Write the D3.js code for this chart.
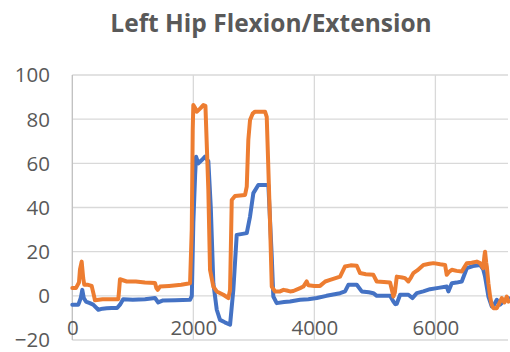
<!DOCTYPE html>
<html>
<head>
<meta charset="utf-8">
<script src="https://cdn.jsdelivr.net/npm/d3@7"></script>
<style>
  html, body { margin: 0; padding: 0; background: #fff; }
  svg { display: block; }
  text { font-family: "Open Sans", "Liberation Sans", sans-serif; fill: #595959; }
</style>
</head>
<body>
<svg id="chart" width="510" height="352"></svg>
<script>
// Frame numbers and joint angles (degrees) for the two traces
const blueFrames = [0, 100, 140, 165, 190, 225, 290, 345, 430, 500, 570, 650, 740, 788, 840, 1000, 1200, 1367, 1420, 1500, 1700, 1946, 1975, 2000, 2030, 2045, 2083, 2140, 2193, 2248, 2288, 2331, 2387, 2441, 2520, 2607, 2661, 2717, 2883, 2937, 2992, 3074, 3240, 3296, 3322, 3378, 3500, 3598, 3764, 3900, 4040, 4200, 4425, 4507, 4562, 4701, 4783, 4900, 4975, 5031, 5251, 5306, 5340, 5362, 5417, 5554, 5620, 5693, 5800, 5912, 6050, 6188, 6215, 6271, 6350, 6436, 6519, 6620, 6739, 6790, 6821, 6876, 6931, 6970, 7015, 7070, 7152, 7207];
const blueAngles = [-4, -4, -1, 2.7, -1, -2.6, -3.3, -4, -6.3, -5.8, -5.6, -5.5, -5.5, -4, -1.5, -1.8, -1.5, -1, -3, -2.1, -2, -1.8, 0, 32.9, 55, 63, 60, 61.5, 63, 61, 40.4, 5.7, -6.3, -10.9, -12, -13.1, 2.7, 27.6, 28.4, 35.9, 46.5, 50.2, 50.2, 17.8, -0.3, -3.3, -2.8, -2.6, -1.8, -1.5, -1, 0, 1.2, 2, 5, 5, 2, 1.6, 1.2, 0, 0, -2.6, -3.8, -3.6, 0.5, 0.5, -1, 1.2, 2, 3, 3.6, 4.2, 2, 5.7, 6, 6.5, 12.5, 13.5, 14, 12, 8.7, -0.3, -4.8, -4, -1.8, -4, -1.8, -1];

const orangeFrames = [0, 60, 110, 127, 155, 180, 198, 260, 320, 350, 375, 500, 600, 760, 775, 788, 900, 1050, 1200, 1367, 1390, 1411, 1450, 1600, 1800, 1946, 1974, 1990, 2000, 2030, 2056, 2120, 2165, 2200, 2248, 2276, 2331, 2387, 2496, 2579, 2607, 2635, 2689, 2855, 2883, 2909, 2937, 2980, 3020, 3185, 3213, 3268, 3296, 3350, 3433, 3490, 3544, 3598, 3653, 3764, 3818, 3874, 3900, 4000, 4094, 4180, 4260, 4350, 4425, 4507, 4600, 4701, 4755, 4850, 4975, 5031, 5150, 5251, 5279, 5306, 5330, 5362, 5450, 5499, 5554, 5600, 5636, 5700, 5802, 5900, 5967, 6080, 6160, 6188, 6230, 6271, 6350, 6436, 6480, 6519, 6600, 6684, 6739, 6790, 6810, 6821, 6840, 6850, 6876, 6904, 6930, 6959, 7015, 7097, 7140, 7180, 7207];
const orangeAngles = [3.5, 3.5, 6, 12, 15.5, 8, 5, 5, 4.5, 1, -2, -1.5, -1.5, -1.5, 3, 7.5, 6.5, 6.5, 6, 5.8, 3.5, 2.7, 4.2, 4.5, 5, 5.7, 30, 75, 86.4, 85, 83.4, 85, 86.4, 86, 48, 11.8, 4.2, 2, 0.5, -1, 2.7, 43.4, 45.2, 45.7, 49.5, 70.6, 79.6, 82.5, 83.4, 83.4, 81, 32.9, 4.2, 2, 2, 2.7, 2.4, 2, 2.2, 3.5, 4.2, 6.5, 4.8, 4.5, 4.5, 6.5, 7.2, 8, 8.7, 13.3, 13.8, 13.6, 10.3, 9.8, 9.5, 6.5, 6.3, 6, 3, -0.3, 1.5, 8.7, 8.3, 8, 6.5, 8.5, 10.3, 11.5, 14, 14.5, 14.8, 14.3, 14, 9.5, 11, 11.8, 11.3, 11, 13, 14.8, 15, 15.5, 14.8, 12.5, 18, 20, 15, 13.3, 5.7, -0.3, -4, -5.6, -5.6, -1, -3, -0.3, -2.6];

const chartTitle = "Left Hip Flexion/Extension";
const xTicks = [0, 2000, 4000, 6000];
const yTicks = [-20, 0, 20, 40, 60, 80, 100];

const svg = d3.select("#chart");

const x = d3.scaleLinear().domain([0, 7200]).range([72.3, 508]);
const y = d3.scaleLinear().domain([-20, 100]).range([340, 75]);

// Horizontal gridlines
svg.append("g")
  .selectAll("line")
  .data(yTicks)
  .join("line")
  .attr("x1", x(0)).attr("x2", x.range()[1])
  .attr("y1", d => y(d)).attr("y2", d => y(d))
  .attr("stroke", "#d9d9d9").attr("stroke-width", 1.3);

// Vertical gridlines
svg.append("g")
  .selectAll("line")
  .data(xTicks.filter(d => d !== 0))
  .join("line")
  .attr("x1", d => x(d)).attr("x2", d => x(d))
  .attr("y1", y(100)).attr("y2", y(-20))
  .attr("stroke", "#d9d9d9").attr("stroke-width", 1.3);

// Vertical axis line
svg.append("line")
  .attr("x1", x(0)).attr("x2", x(0))
  .attr("y1", y(100)).attr("y2", y(-20))
  .attr("stroke", "#bfbfbf").attr("stroke-width", 1.3);

// Y axis labels
const yAxis = d3.axisLeft(y).tickValues(yTicks).tickFormat(d3.format("d")).tickSize(0).tickPadding(0);
const gy = svg.append("g").attr("transform", "translate(50,0)").call(yAxis);
gy.select(".domain").remove();
gy.selectAll("text")
  .attr("font-family", "Open Sans")
  .attr("font-size", 20.5)
  .attr("fill", "#595959")
  .attr("dy", "0.34em");

// X axis labels
const xAxis = d3.axisBottom(x).tickValues(xTicks).tickFormat(d3.format("d")).tickSize(0).tickPadding(0);
const gx = svg.append("g").attr("transform", "translate(0,320)").call(xAxis);
gx.select(".domain").remove();
gx.selectAll("text")
  .attr("font-family", "Open Sans")
  .attr("font-size", 20.5)
  .attr("fill", "#595959")
  .attr("dy", "0.71em")
  .attr("y", 0);

// Traces
const line = d3.line()
  .x(d => x(d[0]))
  .y(d => y(d[1]))
  .curve(d3.curveLinear);

const traces = [
  { frames: blueFrames, angles: blueAngles, color: "#4472C4" },
  { frames: orangeFrames, angles: orangeAngles, color: "#ED7D31" }
];

svg.append("g")
  .selectAll("path")
  .data(traces)
  .join("path")
  .attr("d", t => line(d3.zip(t.frames, t.angles)))
  .attr("fill", "none")
  .attr("stroke", t => t.color)
  .attr("stroke-width", 4)
  .attr("stroke-linejoin", "round")
  .attr("stroke-linecap", "round");

// Title
svg.append("text")
  .attr("x", 271)
  .attr("y", 32.3)
  .attr("text-anchor", "middle")
  .attr("font-size", 24.5)
  .attr("font-weight", "bold")
  .text(chartTitle);
</script>
</body>
</html>
